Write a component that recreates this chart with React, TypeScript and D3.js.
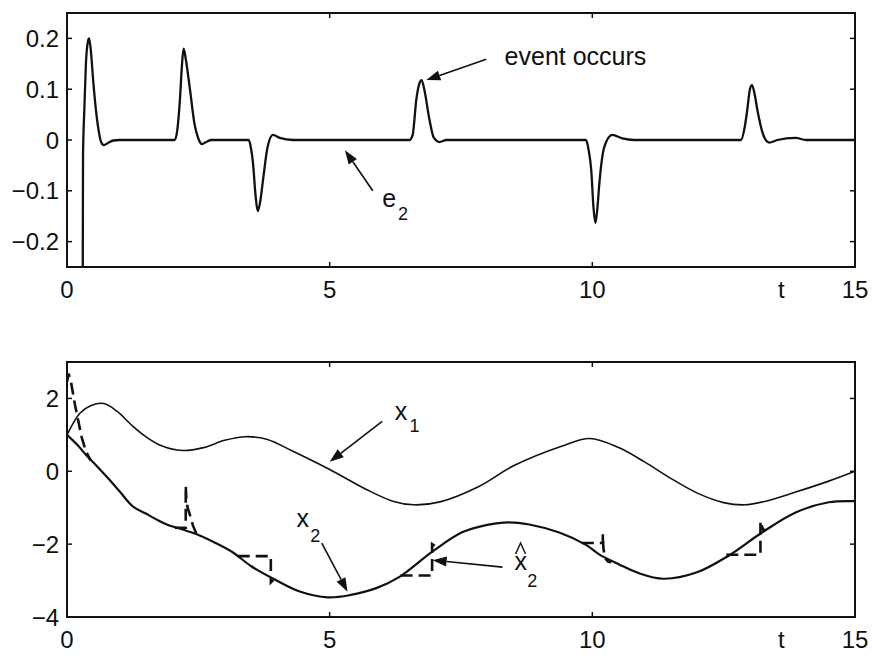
import * as d3 from "d3";
import React from "react";

const W = 872;
const H = 656;
const FONT = "'Liberation Sans', Arial, Helvetica, sans-serif";

// top panel: estimation error e2
const e2T = [0.3, 0.305, 0.33, 0.36, 0.4, 0.42, 0.45, 0.5, 0.55, 0.6, 0.65, 0.7, 0.78, 0.88, 1.0,
  2.05, 2.1, 2.15, 2.19, 2.22, 2.26, 2.34, 2.43, 2.5, 2.57, 2.65, 2.75,
  3.46, 3.5, 3.54, 3.59, 3.63, 3.68, 3.73, 3.82, 3.92, 4.05, 4.3,
  6.52, 6.58, 6.65, 6.71, 6.75, 6.8, 6.9, 6.98, 7.09, 7.22,
  9.88, 9.93, 9.98, 10.02, 10.06, 10.1, 10.13, 10.23, 10.38, 10.57, 10.8,
  12.83, 12.9, 12.95, 13.0, 13.04, 13.09, 13.14, 13.27, 13.37, 13.52, 13.87, 14.07, 15];
const e2V = [-0.25, -0.03, 0.06, 0.15, 0.195, 0.2, 0.18, 0.115, 0.06, 0.02, -0.004, -0.01, -0.006, -0.001, 0,
  0, 0.02, 0.08, 0.15, 0.18, 0.16, 0.1, 0.03, 0.003, -0.008, -0.004, 0,
  0, -0.015, -0.045, -0.11, -0.14, -0.12, -0.08, -0.013, 0.01, 0.004, 0,
  0, 0.01, 0.08, 0.112, 0.118, 0.1, 0.04, 0.005, -0.004, 0,
  0, -0.02, -0.06, -0.13, -0.163, -0.13, -0.09, -0.013, 0.01, 0.003, 0,
  0, 0.025, 0.06, 0.1, 0.108, 0.09, 0.06, 0.006, -0.005, 0, 0.004, 0, 0];

// bottom panel: states
const x1T = [0, 0.25, 0.45, 0.7, 0.95, 1.25, 1.5, 1.8, 2.2, 2.6, 3.0, 3.4, 3.8, 4.3, 5.0, 5.7, 6.2, 6.6, 7.1,
  7.85, 8.5, 9.4, 9.95, 10.5, 11.0, 11.5, 12.0, 12.5, 12.9, 13.3, 13.87, 14.5, 15];
const x1V = [1.0, 1.6, 1.8, 1.86, 1.65, 1.24, 0.95, 0.7, 0.57, 0.65, 0.85, 0.95, 0.88, 0.55, 0.05, -0.5, -0.82, -0.92, -0.84,
  -0.41, 0.15, 0.68, 0.9, 0.65, 0.25, -0.2, -0.6, -0.86, -0.92, -0.82, -0.57, -0.27, 0.0];

const x2T = [0, 0.2, 0.38, 0.57, 0.8, 1.0, 1.25, 1.5, 1.7, 1.9, 2.2, 2.47, 2.8, 3.16, 3.5, 3.93, 4.43, 4.97, 5.38, 5.9,
  6.33, 6.96, 7.53, 8.0, 8.4, 8.8, 9.37, 9.88, 10.13, 10.5, 10.89, 11.35, 11.98, 12.6, 13.23, 13.87, 14.5, 15];
const x2V = [1.0, 0.72, 0.42, 0.14, -0.22, -0.55, -0.96, -1.16, -1.32, -1.46, -1.6, -1.73, -1.95, -2.23, -2.6, -2.95, -3.3, -3.46, -3.4, -3.2,
  -2.9, -2.2, -1.67, -1.47, -1.4, -1.46, -1.68, -2.02, -2.28, -2.55, -2.8, -2.95, -2.78, -2.31, -1.68, -1.13, -0.85, -0.82];

// estimate x2hat where it leaves x2 (held values and jumps at events)
const hat0T = [0, 0.03, 0.07, 0.15, 0.28, 0.36, 0.45];
const hat0V = [2.45, 2.68, 2.5, 1.84, 0.93, 0.55, 0.3];
const hat1T = [2.05, 2.26, 2.26, 2.275, 2.3, 2.34, 2.4, 2.47];
const hat1V = [-1.55, -1.55, -0.4, -0.85, -1.02, -1.2, -1.5, -1.74];
const hat2T = [3.25, 3.88, 3.88, 3.93];
const hat2V = [-2.33, -2.33, -3.05, -2.98];
const hat3T = [6.35, 6.95, 6.95, 7.02, 7.1];
const hat3V = [-2.86, -2.86, -2.0, -2.06, -2.03];
const hat4T = [9.8, 10.2, 10.2, 10.21, 10.24, 10.3, 10.36];
const hat4V = [-1.97, -1.97, -1.73, -2.1, -2.38, -2.48, -2.5];
const hat5T = [12.55, 13.2, 13.2, 13.25, 13.3];
const hat5V = [-2.29, -2.29, -1.37, -1.6, -1.62];

const xTicks = [0, 5, 10, 15];
const xTickLabels = ["0", "5", "10", "15"];
const topYTicks = [0.2, 0.1, 0, -0.1, -0.2];
const topYLabels = ["0.2", "0.1", "0", "\u22120.1", "\u22120.2"];
const botYTicks = [2, 0, -2, -4];
const botYLabels = ["2", "0", "\u22122", "\u22124"];

const zip = (t: number[], v: number[]) => t.map((d, i) => [d, v[i]] as [number, number]);

const x = d3.scaleLinear().domain([0, 15]).range([67, 855]);
const yTop = d3.scaleLinear().domain([-0.25, 0.25]).range([267, 13]);
const yBot = d3.scaleLinear().domain([-4, 3]).range([617, 362]);

const Arrow = ({ x1, y1, x2, y2 }) => {
  const a = Math.atan2(y2 - y1, x2 - x1);
  const len = 14;
  const hw = 5;
  const bx = x2 - len * Math.cos(a);
  const by = y2 - len * Math.sin(a);
  const px = -Math.sin(a) * hw;
  const py = Math.cos(a) * hw;
  return (
    <g>
      <line x1={x1} y1={y1} x2={bx} y2={by} stroke="#111" strokeWidth={1.6} />
      <polygon points={`${x2},${y2} ${bx + px},${by + py} ${bx - px},${by - py}`} fill="#111" />
    </g>
  );
};

const Panel = ({ y, yTicks, yLabels, labelBaseline }) => {
  const [x0, x1] = x.range();
  const [yb, yt] = y.range();
  const tk = 5;
  return (
    <g fontFamily={FONT} fontSize={24} fill="#111">
      {xTicks.slice(1, -1).map((t) => (
        <g key={t}>
          <line x1={x(t)} x2={x(t)} y1={yb} y2={yb - tk} stroke="#111" strokeWidth={1.5} />
          <line x1={x(t)} x2={x(t)} y1={yt} y2={yt + tk} stroke="#111" strokeWidth={1.5} />
        </g>
      ))}
      {yTicks.map((v) => (
        <g key={v}>
          <line x1={x0} x2={x0 + tk} y1={y(v)} y2={y(v)} stroke="#111" strokeWidth={1.5} />
          <line x1={x1} x2={x1 - tk} y1={y(v)} y2={y(v)} stroke="#111" strokeWidth={1.5} />
        </g>
      ))}
      <rect x={x0} y={yt} width={x1 - x0} height={yb - yt} fill="none" stroke="#111" strokeWidth={2} />
      {yTicks.map((v, i) => (
        <text key={v} x={59} y={y(v)} dy="0.36em" textAnchor="end">{yLabels[i]}</text>
      ))}
      {xTicks.map((t, i) => (
        <text key={t} x={x(t)} y={labelBaseline} textAnchor="middle">{xTickLabels[i]}</text>
      ))}
      <text x={x(13.6)} y={labelBaseline} textAnchor="middle">t</text>
    </g>
  );
};

export default function App() {
  const topLine = d3.line<[number, number]>().x((d) => x(d[0])).y((d) => yTop(d[1])).curve(d3.curveMonotoneX);
  const botLine = d3.line<[number, number]>().x((d) => x(d[0])).y((d) => yBot(d[1])).curve(d3.curveCatmullRom.alpha(0.5));
  const hatLine = d3.line<[number, number]>().x((d) => x(d[0])).y((d) => yBot(d[1])).curve(d3.curveLinear);

  const hats = [
    zip(hat0T, hat0V), zip(hat1T, hat1V), zip(hat2T, hat2V),
    zip(hat3T, hat3V), zip(hat4T, hat4V), zip(hat5T, hat5V),
  ];

  return (
    <svg width={W} height={H} style={{ position: "absolute", left: 0, top: 0, background: "#fff" }}>
      <Panel y={yTop} yTicks={topYTicks} yLabels={topYLabels} labelBaseline={298} />
      <path d={topLine(zip(e2T, e2V)) || ""} fill="none" stroke="#111" strokeWidth={2.3} strokeLinejoin="round" />

      <Panel y={yBot} yTicks={botYTicks} yLabels={botYLabels} labelBaseline={648} />
      <path d={botLine(zip(x1T, x1V)) || ""} fill="none" stroke="#111" strokeWidth={1.6} />
      <path d={botLine(zip(x2T, x2V)) || ""} fill="none" stroke="#111" strokeWidth={2.2} />
      {hats.map((seg, i) => (
        <path key={i} d={hatLine(seg) || ""} fill="none" stroke="#111" strokeWidth={2.6} strokeDasharray="12,6" />
      ))}

      {/* annotations */}
      <g fontFamily={FONT} fill="#111">
        <text x={x(8.33)} y={yTop(0.148)} fontSize={25}>event occurs</text>
        <Arrow x1={x(7.98)} y1={yTop(0.159)} x2={x(6.84)} y2={yTop(0.118)} />

        <text x={x(6.0)} y={yTop(-0.132)} fontSize={25}>e</text>
        <text x={x(6.3)} y={yTop(-0.157)} fontSize={18}>2</text>
        <Arrow x1={x(5.82)} y1={yTop(-0.1)} x2={x(5.29)} y2={yTop(-0.02)} />

        <text x={x(6.24)} y={yBot(1.41)} fontSize={25}>x</text>
        <text x={x(6.52)} y={yBot(1.08)} fontSize={18}>1</text>
        <Arrow x1={x(6.0)} y1={yBot(1.37)} x2={x(5.0)} y2={yBot(0.26)} />

        <text x={x(4.37)} y={yBot(-1.53)} fontSize={25}>x</text>
        <text x={x(4.63)} y={yBot(-1.95)} fontSize={18}>2</text>
        <Arrow x1={x(4.85)} y1={yBot(-1.97)} x2={x(5.34)} y2={yBot(-3.31)} />

        <text x={x(8.52)} y={yBot(-2.71)} fontSize={25}>x</text>
        <path
          d={`M${x(8.52) + 1},${yBot(-2.71) - 16} L${x(8.52) + 6},${yBot(-2.71) - 27} L${x(8.52) + 11},${yBot(-2.71) - 16}`}
          fill="none" stroke="#111" strokeWidth={1.4}
        />
        <text x={x(8.76)} y={yBot(-3.18)} fontSize={18}>2</text>
        <Arrow x1={x(8.29)} y1={yBot(-2.63)} x2={x(6.96)} y2={yBot(-2.44)} />
      </g>
    </svg>
  );
}
